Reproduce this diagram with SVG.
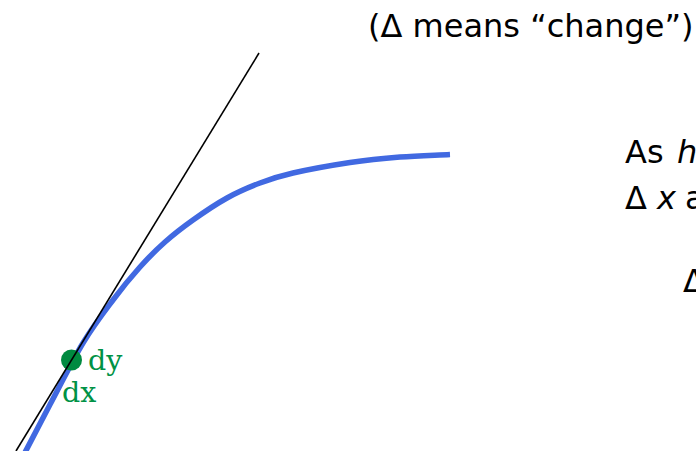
<svg xmlns="http://www.w3.org/2000/svg" width="696" height="451" viewBox="0 0 696 451">
  <style>
    .sans { font-family: "DejaVu Sans", "Liberation Sans", sans-serif; font-size: 32px; fill: #000; }
    .it { font-style: italic; }
    .lbl { font-family: "DejaVu Serif", "Liberation Serif", serif; font-size: 28.5px; fill: #009245; }
    .curve { fill: none; stroke: #4169e1; stroke-width: 5.5; stroke-linejoin: round; stroke-linecap: butt; }
    .tan { fill: none; stroke: #000; stroke-width: 1.6; }
  </style>
  <rect width="696" height="451" fill="#fff"/>
  <g id="curve">
    <path class="curve" d="M20,462 C30,443.1 39.5,424.3 50,404.5 C60.5,384.7 72.5,360.4 83,343 C93.5,325.6 103.5,312.7 113,300 C122.5,287.3 131.3,276.7 140,267 C148.7,257.3 156.2,249.8 165,242 C173.8,234.2 182.7,227.3 193,220 C203.3,212.7 215.8,204.2 227,198 C238.2,191.8 249,187.2 260,183 C271,178.8 278,176.4 293,173 C308,169.6 332.2,165.2 350,162.5 C367.8,159.8 383.3,158.3 400,157 C416.7,155.7 433.3,155.3 450,154.5"/>
  </g>
  <g id="point">
    <circle cx="71.5" cy="360" r="10.5" fill="#008a40"/>
  </g>
  <g id="connectors">
    <line class="tan" x1="259" y1="53" x2="16" y2="451"/>
  </g>
  <g id="labels">
    <text class="lbl" x="88" y="370">dy</text>
    <text class="lbl" x="62" y="402">dx</text>
  </g>
  <g id="note">
    <text class="sans" x="368" y="37">(Δ means “change”)</text>
  </g>
  <g id="side-text">
    <text class="sans" y="163"><tspan x="625">As</tspan><tspan class="it" x="677">h</tspan></text>
    <text class="sans" y="209"><tspan x="625">Δ</tspan><tspan class="it" x="657">x</tspan><tspan x="685">a</tspan></text>
    <text class="sans" x="683" y="292">Δ</text>
  </g>
</svg>
